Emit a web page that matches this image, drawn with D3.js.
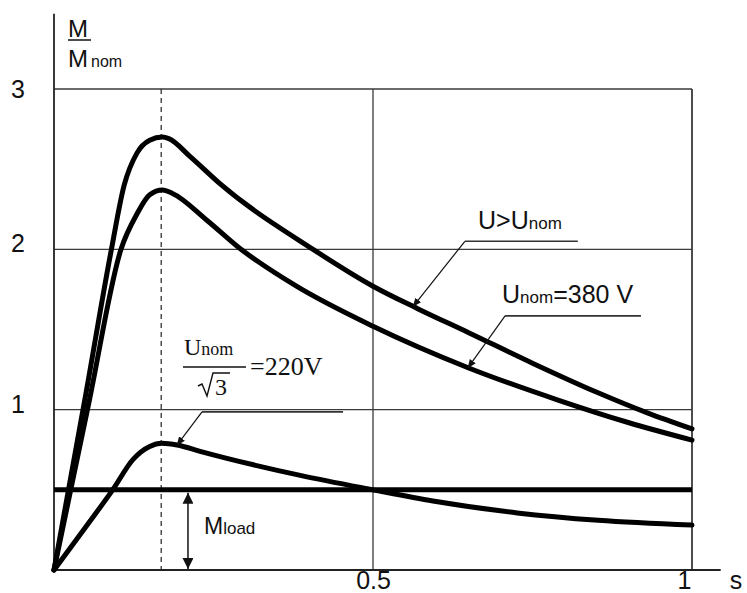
<!DOCTYPE html>
<html>
<head>
<meta charset="utf-8">
<script src="https://cdn.jsdelivr.net/npm/d3@7"></script>
<style>
  body { margin: 0; background: #fff; }
  text { font-family: "Liberation Sans", Arial, sans-serif; fill: #111; }
  .serif { font-family: "Liberation Serif", "Times New Roman", serif; }
</style>
</head>
<body>
<div id="chart"></div>
<script>
// ---- data (time in s, torque in M/Mnom) ----
const xTicks = [0.5, 1];
const yTicks = [1, 2, 3];
const peakTime = 0.168;
const loadTorque = 0.5;

// U > Unom
const curveHigh = [[0, 0], [0.05, 1.1], [0.09, 2.0], [0.11, 2.4], [0.13, 2.6], [0.15, 2.68],
  [0.17, 2.70], [0.18, 2.69], [0.213, 2.58], [0.26, 2.41], [0.406, 2.0], [0.5, 1.77],
  [0.57, 1.63], [0.65, 1.48], [0.75, 1.29], [0.85, 1.11], [0.93, 0.98], [1.0, 0.88]];
// Unom = 380 V
const curveNom = [[0, 0], [0.055, 1.05], [0.105, 2.0], [0.13, 2.22], [0.15, 2.34], [0.17, 2.37],
  [0.185, 2.35], [0.24, 2.18], [0.29, 2.01], [0.38, 1.77], [0.5, 1.52], [0.65, 1.26],
  [0.79, 1.06], [0.9, 0.92], [1.0, 0.81]];
// Unom / sqrt(3) = 220 V
const curveLow = [[0, 0], [0.05, 0.27], [0.092, 0.50], [0.124, 0.69], [0.15, 0.77], [0.169, 0.79],
  [0.193, 0.78], [0.229, 0.74], [0.386, 0.59], [0.5, 0.50], [0.594, 0.43], [0.726, 0.356],
  [0.853, 0.31], [1.0, 0.28]];

const W = 747, H = 593;
const svg = d3.select("#chart").append("svg")
  .attr("width", W).attr("height", H);

const x = d3.scaleLinear().domain([0, 1]).range([54, 692]);
const y = d3.scaleLinear().domain([0, 3]).range([570, 89]);

// arrow markers
const defs = svg.append("defs");
defs.append("marker").attr("id", "leader")
  .attr("viewBox", "0 0 10 10").attr("refX", 9).attr("refY", 5)
  .attr("markerWidth", 9).attr("markerHeight", 9).attr("markerUnits", "userSpaceOnUse")
  .attr("orient", "auto")
  .append("path").attr("d", "M0,1 L10,5 L0,9 Z").attr("fill", "#111");
defs.append("marker").attr("id", "dim")
  .attr("viewBox", "0 0 10 10").attr("refX", 10).attr("refY", 5)
  .attr("markerWidth", 13).attr("markerHeight", 11).attr("markerUnits", "userSpaceOnUse")
  .attr("orient", "auto-start-reverse")
  .append("path").attr("d", "M0,0 L10,5 L0,10 Z").attr("fill", "#111");

// grid + frame
const gridColor = "#3a3a3a";
yTicks.forEach(v => {
  svg.append("line")
    .attr("x1", x(0)).attr("x2", x(1))
    .attr("y1", y(v)).attr("y2", y(v))
    .attr("stroke", gridColor).attr("stroke-width", 1.4);
});
svg.append("line")
  .attr("x1", x(0.5)).attr("x2", x(0.5))
  .attr("y1", y(3)).attr("y2", y(0))
  .attr("stroke", gridColor).attr("stroke-width", 1.3);
svg.append("line")
  .attr("x1", x(1)).attr("x2", x(1))
  .attr("y1", y(3)).attr("y2", y(0))
  .attr("stroke", gridColor).attr("stroke-width", 1.8);

// axes lines
svg.append("line")
  .attr("x1", x(0)).attr("x2", x(0))
  .attr("y1", y(3.47)).attr("y2", y(0))
  .attr("stroke", "#222").attr("stroke-width", 1.8);
svg.append("line")
  .attr("x1", x(0)).attr("x2", x(1.045))
  .attr("y1", y(0)).attr("y2", y(0))
  .attr("stroke", "#222").attr("stroke-width", 1.8);

// peak time dashed line
svg.append("line")
  .attr("x1", x(peakTime)).attr("x2", x(peakTime))
  .attr("y1", y(3)).attr("y2", y(0))
  .attr("stroke", "#222").attr("stroke-width", 1.2)
  .attr("stroke-dasharray", "5,4");

// tick labels
const yAxis = svg.append("g")
  .attr("transform", "translate(" + x(0) + ",0)")
  .call(d3.axisLeft(y).tickValues(yTicks).tickSize(0).tickPadding(29).tickFormat(d3.format("d")));
yAxis.select(".domain").remove();
yAxis.selectAll("text")
  .attr("font-size", 25).attr("font-family", null)
  .attr("dy", d => d === 3 ? "0.32em" : "0.1em");

const xAxis = svg.append("g")
  .attr("transform", "translate(0," + y(0) + ")")
  .call(d3.axisBottom(x).tickValues(xTicks).tickSize(0).tickPadding(1)
    .tickFormat(d => d === 1 ? "1" : "0.5"));
xAxis.select(".domain").remove();
xAxis.selectAll("text")
  .attr("font-size", 25).attr("font-family", null)
  .attr("dx", d => d === 1 ? -8 : 0);

svg.append("text").attr("x", 736).attr("y", 589)
  .attr("text-anchor", "middle").attr("font-size", 25).text("s");

// y label M / Mnom
svg.append("text").attr("x", 68).attr("y", 37).attr("font-size", 24).text("M");
svg.append("line").attr("x1", 68).attr("x2", 91).attr("y1", 40).attr("y2", 40)
  .attr("stroke", "#111").attr("stroke-width", 1.5);
const mnom = svg.append("text").attr("x", 68).attr("y", 67).attr("font-size", 24);
mnom.append("tspan").text("M");
mnom.append("tspan").attr("font-size", 16).attr("dx", 3).text("nom");

// curves
const line = d3.line()
  .x(d => x(d[0])).y(d => y(d[1]))
  .curve(d3.curveMonotoneX);

[curveHigh, curveNom, curveLow].forEach(c => {
  svg.append("path").datum(c)
    .attr("d", line)
    .attr("fill", "none").attr("stroke", "#000")
    .attr("stroke-width", 5).attr("stroke-linejoin", "round").attr("stroke-linecap", "round");
});

// load line
svg.append("line")
  .attr("x1", x(0)).attr("x2", x(1))
  .attr("y1", y(loadTorque)).attr("y2", y(loadTorque))
  .attr("stroke", "#000").attr("stroke-width", 5);

// Mload dimension arrow
svg.append("line")
  .attr("x1", x(0.21)).attr("x2", x(0.21))
  .attr("y1", y(loadTorque) + 3).attr("y2", y(0) - 1)
  .attr("stroke", "#111").attr("stroke-width", 1.5)
  .attr("marker-start", "url(#dim)").attr("marker-end", "url(#dim)");
const mload = svg.append("text").attr("x", 204).attr("y", 534).attr("font-size", 23);
mload.append("tspan").text("M");
mload.append("tspan").attr("font-size", 17).attr("dx", 0).text("load");

// annotations: leader from underline start to a point on the curve
const valueAt = (curve, t) => {
  const i = d3.bisector(d => d[0]).left(curve, t);
  const a = curve[i - 1], b = curve[i];
  return a[1] + (b[1] - a[1]) * (t - a[0]) / (b[0] - a[0]);
};
const annotations = [
  { curve: curveHigh, t: 0.563, lineY: 2.05, x0: 0.644, x1: 0.821 },
  { curve: curveNom, t: 0.649, lineY: 1.585, x0: 0.707, x1: 0.92 },
  { curve: curveLow, t: 0.193, lineY: 0.986, x0: 0.232, x1: 0.453 }
];
annotations.forEach(a => {
  svg.append("line")
    .attr("x1", x(a.x0)).attr("x2", x(a.x1))
    .attr("y1", y(a.lineY)).attr("y2", y(a.lineY))
    .attr("stroke", "#333").attr("stroke-width", 1.6);
  svg.append("line")
    .attr("x1", x(a.x0)).attr("y1", y(a.lineY))
    .attr("x2", x(a.t)).attr("y2", y(valueAt(a.curve, a.t)))
    .attr("stroke", "#111").attr("stroke-width", 1.2)
    .attr("marker-end", "url(#leader)");
});

// label U>Unom
const l1 = svg.append("text").attr("x", 478).attr("y", 229).attr("font-size", 25);
l1.append("tspan").text("U>U");
l1.append("tspan").attr("font-size", 17).text("nom");

// label Unom=380 V
const l2 = svg.append("text").attr("x", 502).attr("y", 303).attr("font-size", 25);
l2.append("tspan").text("U");
l2.append("tspan").attr("font-size", 17).text("nom");
l2.append("tspan").text("=380 V");

// label Unom/sqrt(3) = 220V
const l3 = svg.append("text").attr("class", "serif").attr("x", 184).attr("y", 355).attr("font-size", 24);
l3.append("tspan").text("U");
l3.append("tspan").attr("font-size", 18).text("nom");
svg.append("line").attr("x1", 183).attr("x2", 246).attr("y1", 367).attr("y2", 367)
  .attr("stroke", "#111").attr("stroke-width", 1.4);
svg.append("path")
  .attr("d", "M198,386 L202,384 L207,396 L213,373 L230,373")
  .attr("fill", "none").attr("stroke", "#111").attr("stroke-width", 1.4);
svg.append("text").attr("class", "serif").attr("x", 215).attr("y", 395)
  .attr("font-size", 24).text("3");
svg.append("text").attr("class", "serif").attr("x", 250).attr("y", 375)
  .attr("font-size", 26).text("=220V");
</script>
</body>
</html>
